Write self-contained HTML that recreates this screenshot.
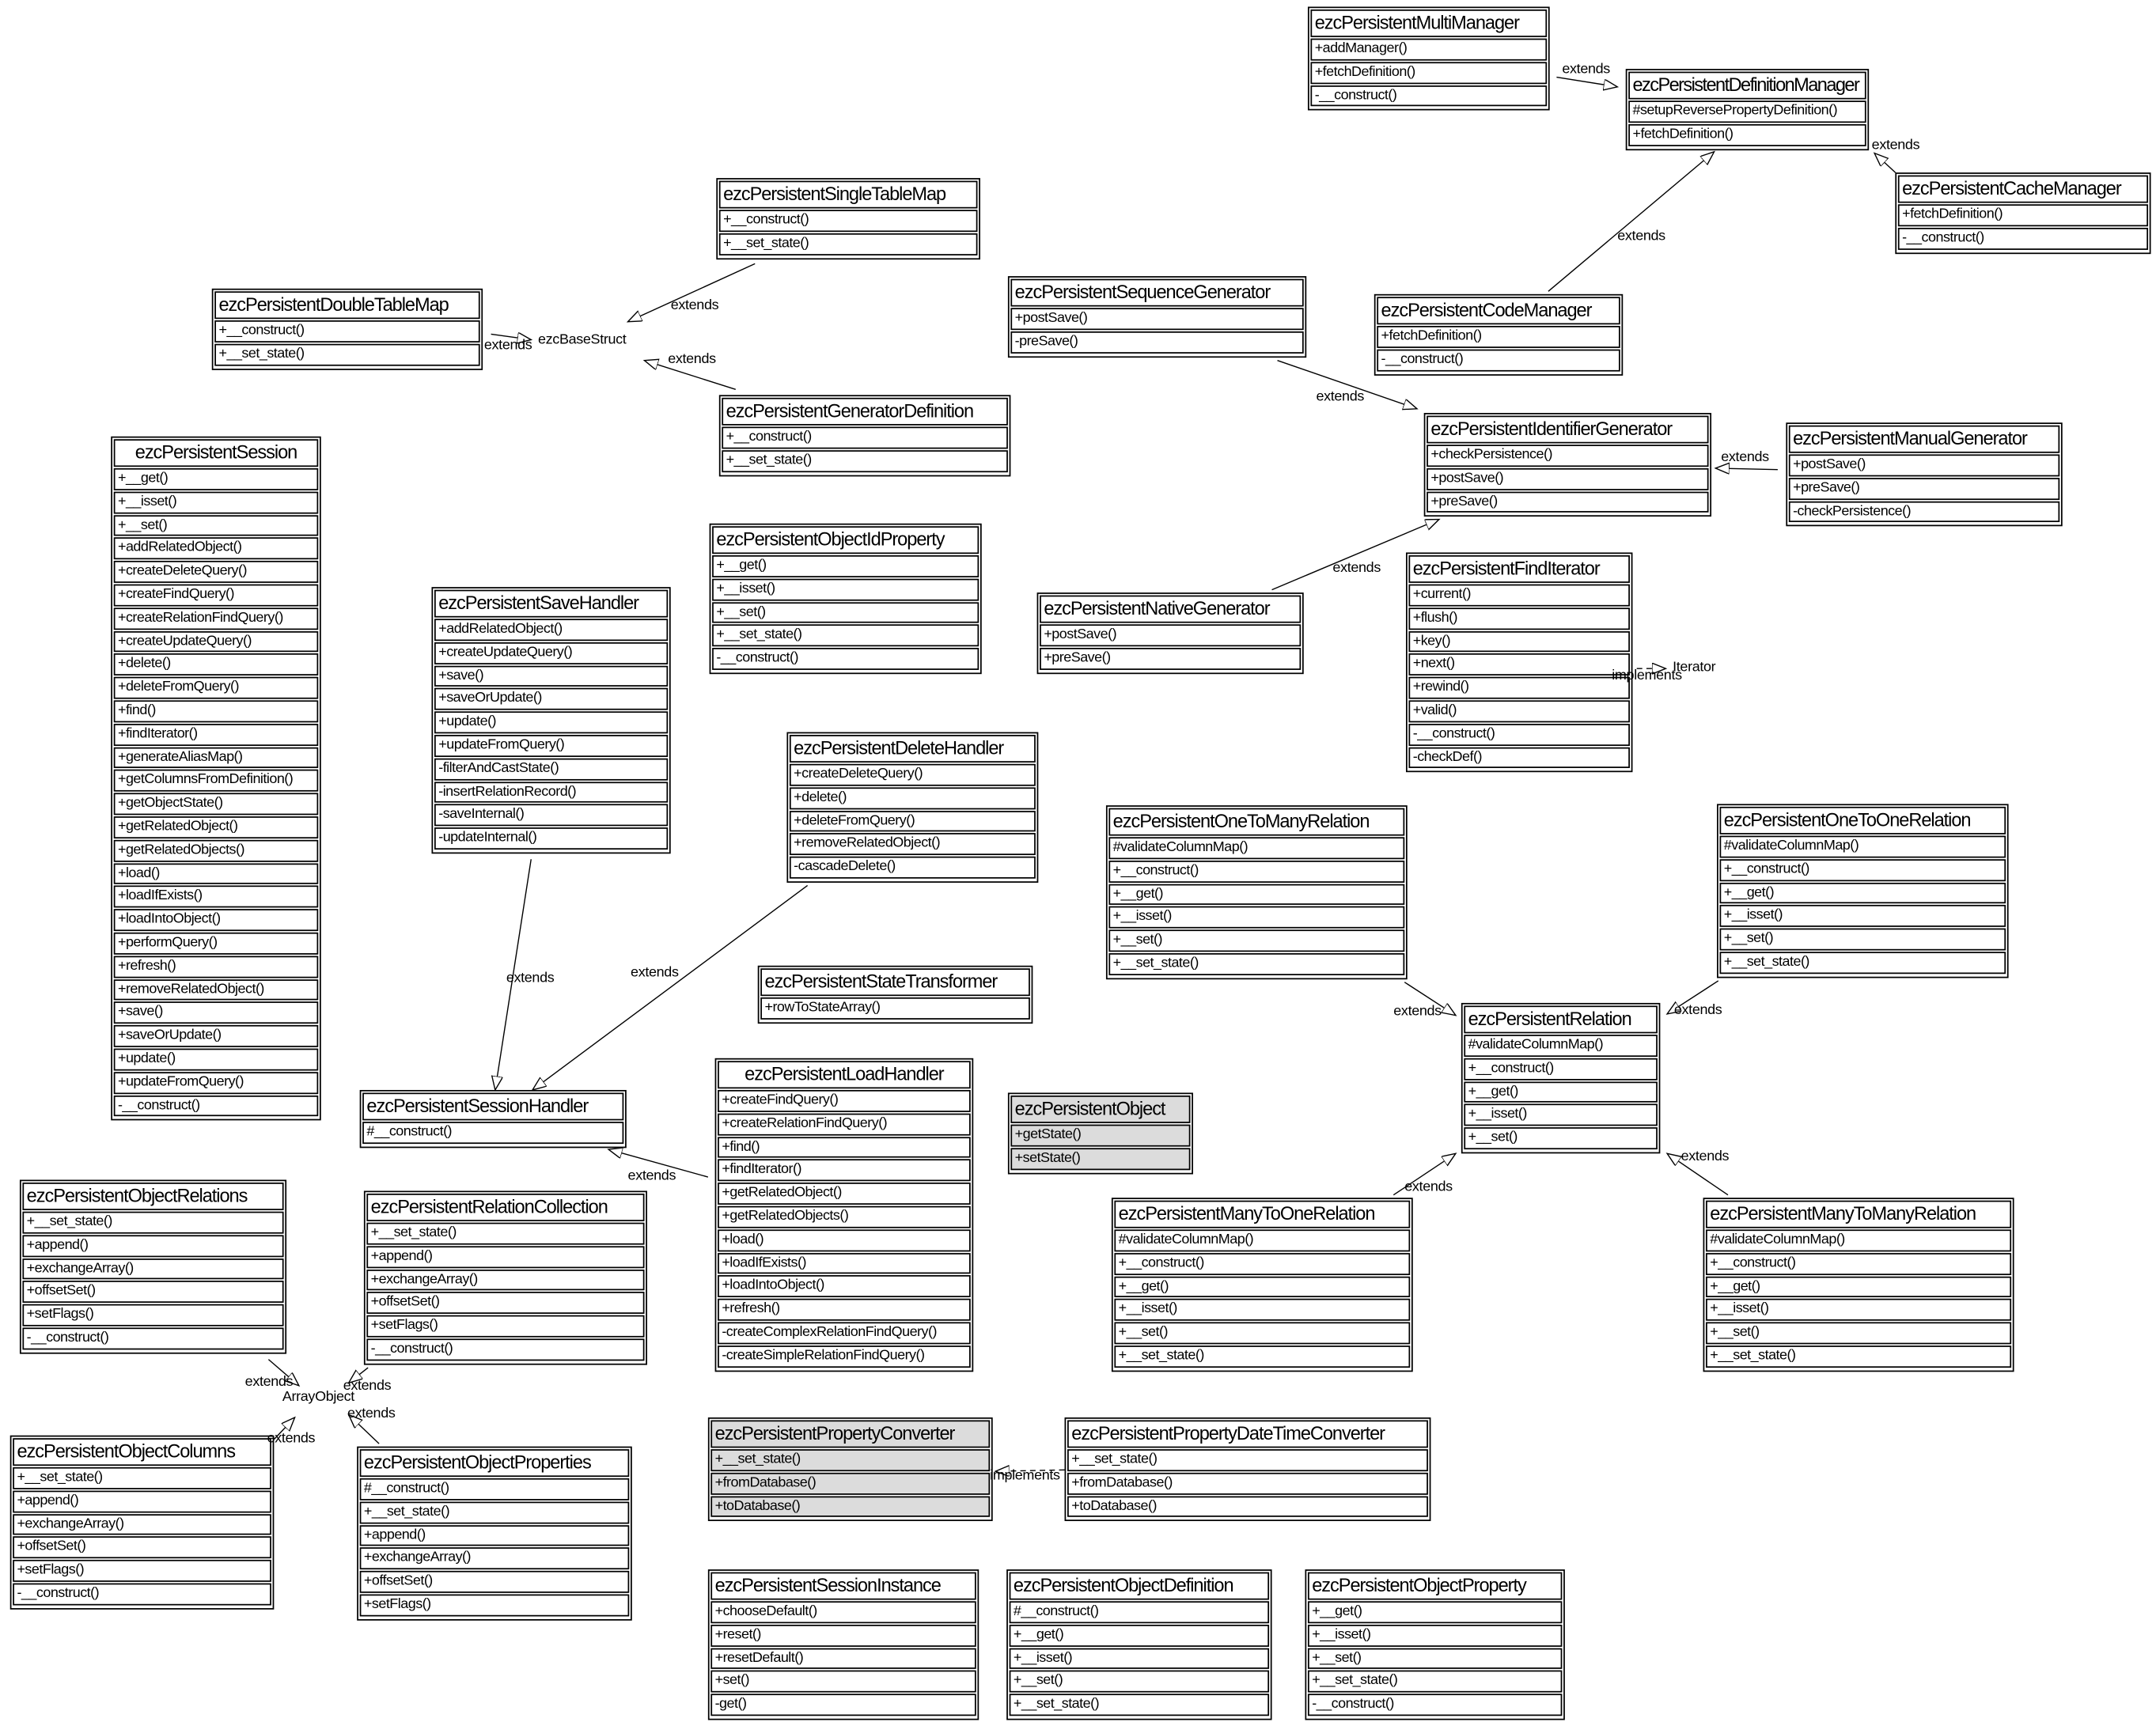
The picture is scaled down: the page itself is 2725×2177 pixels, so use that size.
<!DOCTYPE html>
<html><head><meta charset="utf-8">
<style>
html,body{margin:0;padding:0;background:#fff;width:2725px;height:2177px;overflow:hidden}
#c{position:absolute;left:-3px;top:-2px;width:1560px;height:1247px;transform:scale(1.7468);transform-origin:0 0;font-family:"Liberation Sans",Arial,sans-serif;color:#000}
.b{position:absolute;border:1px solid #000;padding:1px;background:#fff;box-sizing:border-box}
.t{border:1px solid #000;height:18px;font-size:13.5px;letter-spacing:-0.6px;line-height:18px;padding:0 2px;margin-bottom:1px;white-space:nowrap;overflow:hidden}
.r{border:1px solid #000;height:13.8px;font-size:10.3px;letter-spacing:-0.3px;line-height:13.8px;padding:0 2px;margin-bottom:1px;white-space:nowrap;overflow:hidden}
.g,.g .t,.g .r{background:#dcdcdc}
.g{background:#fff}
.l{position:absolute;font-size:10.3px;letter-spacing:-0.2px;white-space:nowrap;z-index:2}
svg{position:absolute;left:0;top:0}
</style></head><body><div id="c">
<svg width="1560" height="1247" viewBox="0 0 1560 1247">
<defs><marker id="a" markerUnits="userSpaceOnUse" markerWidth="12" markerHeight="10" refX="10" refY="4" orient="auto"><path d="M0,0 L10,4 L0,8 z" fill="#fff" stroke="#000" stroke-width="0.8"/></marker></defs>
<g stroke="#000" stroke-width="0.8" fill="none" marker-end="url(#a)">
<line x1="1128" y1="57" x2="1172" y2="64"/>
<line x1="1385" y1="137" x2="1358" y2="112"/>
<line x1="1122" y1="212" x2="1242" y2="111"/>
<line x1="548" y1="192" x2="456" y2="234"/>
<line x1="357" y1="243" x2="386" y2="247"/>
<line x1="534" y1="283" x2="468" y2="262"/>
<line x1="926" y1="262" x2="1027" y2="297"/>
<line x1="922" y1="428" x2="1043" y2="377"/>
<line x1="1288" y1="341" x2="1243" y2="340"/>
<line x1="1186" y1="485" x2="1207" y2="485" stroke-dasharray="4,3"/>
<line x1="386" y1="623" x2="360" y2="790"/>
<line x1="586" y1="642" x2="387" y2="790"/>
<line x1="514" y1="853" x2="442" y2="833"/>
<line x1="1018" y1="712" x2="1055" y2="736"/>
<line x1="1245" y1="711" x2="1208" y2="735"/>
<line x1="1010" y1="866" x2="1055" y2="836"/>
<line x1="1252" y1="866" x2="1208" y2="836"/>
<line x1="196" y1="985" x2="218" y2="1004"/>
<line x1="268" y1="991" x2="254" y2="1002"/>
<line x1="198" y1="1045" x2="215" y2="1027"/>
<line x1="276" y1="1046" x2="254" y2="1025"/>
<line x1="772" y1="1065" x2="722" y2="1066" stroke-dasharray="4,3"/>
</g></svg>

<div class="b" style="left:948px;top:6px;width:175px"><div class="t">ezcPersistentMultiManager</div><div class="r">+addManager()</div><div class="r">+fetchDefinition()</div><div class="r">-__construct()</div></div>
<div class="b" style="left:1178px;top:51px;width:176px"><div class="t" style="letter-spacing:-0.9px">ezcPersistentDefinitionManager</div><div class="r">#setupReversePropertyDefinition()</div><div class="r">+fetchDefinition()</div></div>
<div class="b" style="left:1373px;top:126px;width:185px"><div class="t">ezcPersistentCacheManager</div><div class="r">+fetchDefinition()</div><div class="r">-__construct()</div></div>
<div class="b" style="left:520px;top:130px;width:191px"><div class="t">ezcPersistentSingleTableMap</div><div class="r">+__construct()</div><div class="r">+__set_state()</div></div>
<div class="b" style="left:155px;top:210px;width:196px"><div class="t">ezcPersistentDoubleTableMap</div><div class="r">+__construct()</div><div class="r">+__set_state()</div></div>
<div class="b" style="left:522px;top:287px;width:211px"><div class="t">ezcPersistentGeneratorDefinition</div><div class="r">+__construct()</div><div class="r">+__set_state()</div></div>
<div class="b" style="left:731px;top:201px;width:216px"><div class="t">ezcPersistentSequenceGenerator</div><div class="r">+postSave()</div><div class="r">-preSave()</div></div>
<div class="b" style="left:996px;top:214px;width:180px"><div class="t">ezcPersistentCodeManager</div><div class="r">+fetchDefinition()</div><div class="r">-__construct()</div></div>
<div class="b" style="left:1032px;top:300px;width:208px"><div class="t">ezcPersistentIdentifierGenerator</div><div class="r">+checkPersistence()</div><div class="r">+postSave()</div><div class="r">+preSave()</div></div>
<div class="b" style="left:1294px;top:307px;width:200px"><div class="t">ezcPersistentManualGenerator</div><div class="r">+postSave()</div><div class="r">+preSave()</div><div class="r">-checkPersistence()</div></div>
<div class="b" style="left:82px;top:317px;width:152px"><div class="t" style="text-align:center">ezcPersistentSession</div><div class="r">+__get()</div><div class="r">+__isset()</div><div class="r">+__set()</div><div class="r">+addRelatedObject()</div><div class="r">+createDeleteQuery()</div><div class="r">+createFindQuery()</div><div class="r">+createRelationFindQuery()</div><div class="r">+createUpdateQuery()</div><div class="r">+delete()</div><div class="r">+deleteFromQuery()</div><div class="r">+find()</div><div class="r">+findIterator()</div><div class="r">+generateAliasMap()</div><div class="r">+getColumnsFromDefinition()</div><div class="r">+getObjectState()</div><div class="r">+getRelatedObject()</div><div class="r">+getRelatedObjects()</div><div class="r">+load()</div><div class="r">+loadIfExists()</div><div class="r">+loadIntoObject()</div><div class="r">+performQuery()</div><div class="r">+refresh()</div><div class="r">+removeRelatedObject()</div><div class="r">+save()</div><div class="r">+saveOrUpdate()</div><div class="r">+update()</div><div class="r">+updateFromQuery()</div><div class="r">-__construct()</div></div>
<div class="b" style="left:515px;top:380px;width:197px"><div class="t">ezcPersistentObjectIdProperty</div><div class="r">+__get()</div><div class="r">+__isset()</div><div class="r">+__set()</div><div class="r">+__set_state()</div><div class="r">-__construct()</div></div>
<div class="b" style="left:314px;top:426px;width:173px"><div class="t">ezcPersistentSaveHandler</div><div class="r">+addRelatedObject()</div><div class="r">+createUpdateQuery()</div><div class="r">+save()</div><div class="r">+saveOrUpdate()</div><div class="r">+update()</div><div class="r">+updateFromQuery()</div><div class="r">-filterAndCastState()</div><div class="r">-insertRelationRecord()</div><div class="r">-saveInternal()</div><div class="r">-updateInternal()</div></div>
<div class="b" style="left:752px;top:430px;width:193px"><div class="t">ezcPersistentNativeGenerator</div><div class="r">+postSave()</div><div class="r">+preSave()</div></div>
<div class="b" style="left:1019px;top:401px;width:164px"><div class="t">ezcPersistentFindIterator</div><div class="r">+current()</div><div class="r">+flush()</div><div class="r">+key()</div><div class="r">+next()</div><div class="r">+rewind()</div><div class="r">+valid()</div><div class="r">-__construct()</div><div class="r">-checkDef()</div></div>
<div class="b" style="left:571px;top:531px;width:182px"><div class="t">ezcPersistentDeleteHandler</div><div class="r">+createDeleteQuery()</div><div class="r">+delete()</div><div class="r">+deleteFromQuery()</div><div class="r">+removeRelatedObject()</div><div class="r">-cascadeDelete()</div></div>
<div class="b" style="left:802px;top:584px;width:218px"><div class="t">ezcPersistentOneToManyRelation</div><div class="r">#validateColumnMap()</div><div class="r">+__construct()</div><div class="r">+__get()</div><div class="r">+__isset()</div><div class="r">+__set()</div><div class="r">+__set_state()</div></div>
<div class="b" style="left:1244px;top:583px;width:211px"><div class="t">ezcPersistentOneToOneRelation</div><div class="r">#validateColumnMap()</div><div class="r">+__construct()</div><div class="r">+__get()</div><div class="r">+__isset()</div><div class="r">+__set()</div><div class="r">+__set_state()</div></div>
<div class="b" style="left:550px;top:700px;width:199px"><div class="t">ezcPersistentStateTransformer</div><div class="r">+rowToStateArray()</div></div>
<div class="b" style="left:1059px;top:727px;width:144px"><div class="t">ezcPersistentRelation</div><div class="r">#validateColumnMap()</div><div class="r">+__construct()</div><div class="r">+__get()</div><div class="r">+__isset()</div><div class="r">+__set()</div></div>
<div class="b" style="left:262px;top:790px;width:193px"><div class="t">ezcPersistentSessionHandler</div><div class="r">#__construct()</div></div>
<div class="b" style="left:519px;top:767px;width:187px"><div class="t" style="text-align:center">ezcPersistentLoadHandler</div><div class="r">+createFindQuery()</div><div class="r">+createRelationFindQuery()</div><div class="r">+find()</div><div class="r">+findIterator()</div><div class="r">+getRelatedObject()</div><div class="r">+getRelatedObjects()</div><div class="r">+load()</div><div class="r">+loadIfExists()</div><div class="r">+loadIntoObject()</div><div class="r">+refresh()</div><div class="r">-createComplexRelationFindQuery()</div><div class="r">-createSimpleRelationFindQuery()</div></div>
<div class="b g" style="left:731px;top:792px;width:134px"><div class="t">ezcPersistentObject</div><div class="r">+getState()</div><div class="r">+setState()</div></div>
<div class="b" style="left:16px;top:855px;width:193px"><div class="t">ezcPersistentObjectRelations</div><div class="r">+__set_state()</div><div class="r">+append()</div><div class="r">+exchangeArray()</div><div class="r">+offsetSet()</div><div class="r">+setFlags()</div><div class="r">-__construct()</div></div>
<div class="b" style="left:265px;top:863px;width:205px"><div class="t">ezcPersistentRelationCollection</div><div class="r">+__set_state()</div><div class="r">+append()</div><div class="r">+exchangeArray()</div><div class="r">+offsetSet()</div><div class="r">+setFlags()</div><div class="r">-__construct()</div></div>
<div class="b" style="left:806px;top:868px;width:218px"><div class="t">ezcPersistentManyToOneRelation</div><div class="r">#validateColumnMap()</div><div class="r">+__construct()</div><div class="r">+__get()</div><div class="r">+__isset()</div><div class="r">+__set()</div><div class="r">+__set_state()</div></div>
<div class="b" style="left:1234px;top:868px;width:225px"><div class="t">ezcPersistentManyToManyRelation</div><div class="r">#validateColumnMap()</div><div class="r">+__construct()</div><div class="r">+__get()</div><div class="r">+__isset()</div><div class="r">+__set()</div><div class="r">+__set_state()</div></div>
<div class="b" style="left:9px;top:1040px;width:191px"><div class="t">ezcPersistentObjectColumns</div><div class="r">+__set_state()</div><div class="r">+append()</div><div class="r">+exchangeArray()</div><div class="r">+offsetSet()</div><div class="r">+setFlags()</div><div class="r">-__construct()</div></div>
<div class="b" style="left:260px;top:1048px;width:199px"><div class="t">ezcPersistentObjectProperties</div><div class="r">#__construct()</div><div class="r">+__set_state()</div><div class="r">+append()</div><div class="r">+exchangeArray()</div><div class="r">+offsetSet()</div><div class="r">+setFlags()</div></div>
<div class="b g" style="left:514px;top:1027px;width:206px"><div class="t">ezcPersistentPropertyConverter</div><div class="r">+__set_state()</div><div class="r">+fromDatabase()</div><div class="r">+toDatabase()</div></div>
<div class="b" style="left:772px;top:1027px;width:265px"><div class="t">ezcPersistentPropertyDateTimeConverter</div><div class="r">+__set_state()</div><div class="r">+fromDatabase()</div><div class="r">+toDatabase()</div></div>
<div class="b" style="left:514px;top:1137px;width:196px"><div class="t">ezcPersistentSessionInstance</div><div class="r">+chooseDefault()</div><div class="r">+reset()</div><div class="r">+resetDefault()</div><div class="r">+set()</div><div class="r">-get()</div></div>
<div class="b" style="left:730px;top:1137px;width:192px"><div class="t">ezcPersistentObjectDefinition</div><div class="r">#__construct()</div><div class="r">+__get()</div><div class="r">+__isset()</div><div class="r">+__set()</div><div class="r">+__set_state()</div></div>
<div class="b" style="left:946px;top:1137px;width:188px"><div class="t">ezcPersistentObjectProperty</div><div class="r">+__get()</div><div class="r">+__isset()</div><div class="r">+__set()</div><div class="r">+__set_state()</div><div class="r">-__construct()</div></div>

<div class="l" style="left:1132px;top:46px">extends</div>
<div class="l" style="left:1356px;top:101px">extends</div>
<div class="l" style="left:1172px;top:167px">extends</div>
<div class="l" style="left:487px;top:217px">extends</div>
<div class="l" style="left:352px;top:246px">extends</div>
<div class="l" style="left:391px;top:242px">ezcBaseStruct</div>
<div class="l" style="left:485px;top:256px">extends</div>
<div class="l" style="left:954px;top:283px">extends</div>
<div class="l" style="left:966px;top:407px">extends</div>
<div class="l" style="left:1247px;top:327px">extends</div>
<div class="l" style="left:1168px;top:485px">implements</div>
<div class="l" style="left:1212px;top:479px">Iterator</div>
<div class="l" style="left:368px;top:704px">extends</div>
<div class="l" style="left:458px;top:700px">extends</div>
<div class="l" style="left:456px;top:847px">extends</div>
<div class="l" style="left:1010px;top:728px">extends</div>
<div class="l" style="left:1213px;top:727px">extends</div>
<div class="l" style="left:1018px;top:855px">extends</div>
<div class="l" style="left:1218px;top:833px">extends</div>
<div class="l" style="left:179px;top:996px">extends</div>
<div class="l" style="left:250px;top:999px">extends</div>
<div class="l" style="left:206px;top:1007px">ArrayObject</div>
<div class="l" style="left:253px;top:1019px">extends</div>
<div class="l" style="left:195px;top:1037px">extends</div>
<div class="l" style="left:718px;top:1064px">implements</div>
</div></body></html>
